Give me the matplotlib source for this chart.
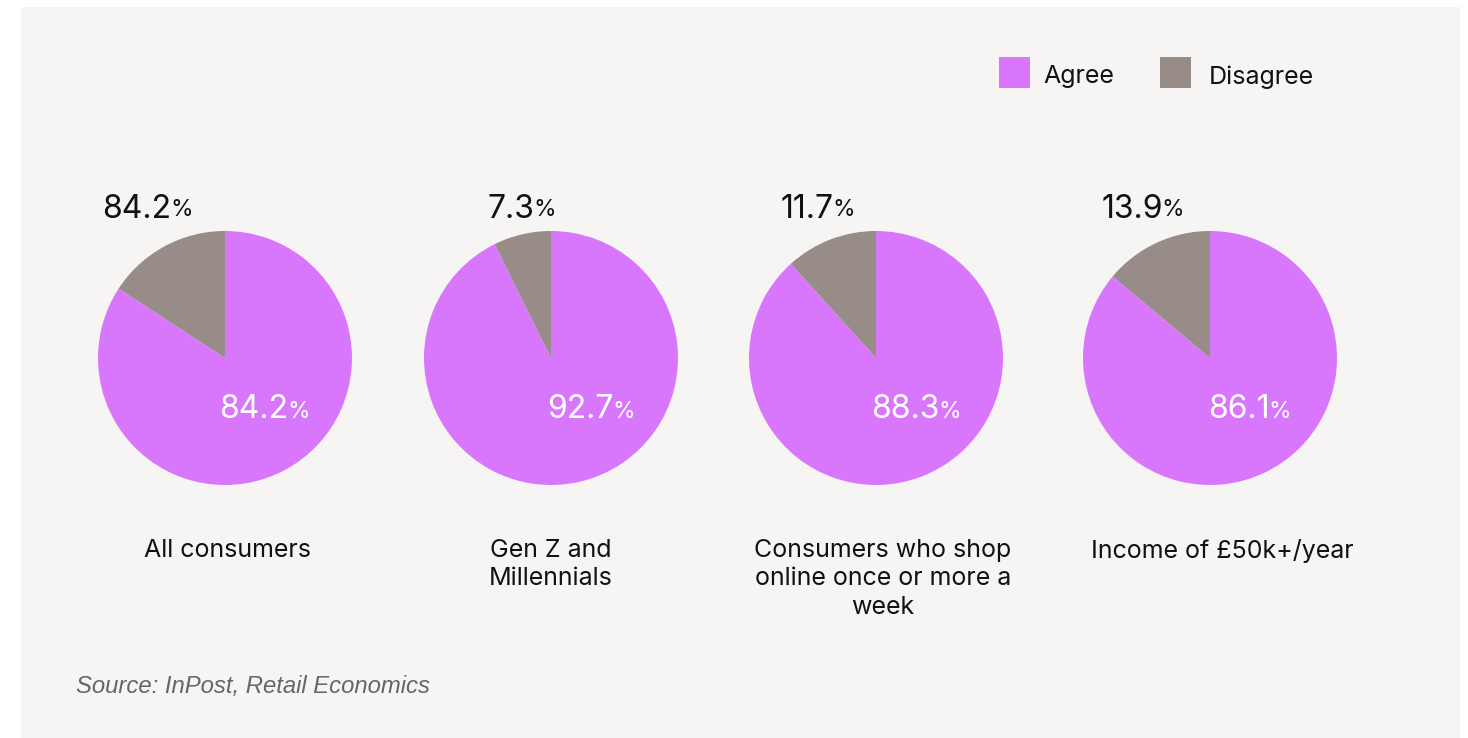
import matplotlib.pyplot as plt
from matplotlib.patches import Rectangle

# survey results: share of each group that agrees
groups = ["All consumers", "Gen Z and\nMillennials",
          "Consumers who shop\nonline once or more a\nweek", "Income of £50k+/year"]
agree = [84.2, 92.7, 88.3, 86.1]
disagree = [100 - a for a in agree]
# value shown above each pie, as published
top_labels = ["84.2", "7.3", "11.7", "13.9"]

AGREE_C = "#d977fc"
DISAGREE_C = "#978c87"
BG = "#f6f5f4"
W, H = 1468, 738
FONT = "Inter"

fig = plt.figure(figsize=(W / 100, H / 100), dpi=100)
fig.patch.set_facecolor("white")


def fx(x):
    return x / W


def fy(y):
    return 1 - y / H


fig.patches.append(Rectangle((fx(21), 0), fx(1460) - fx(21), fy(7), transform=fig.transFigure,
                             facecolor=BG, edgecolor="none", zorder=-5))

# layout in pixels
centers = [225, 551, 876, 1210]
cy = 358
r = 127
top_x = [148, 522, 818, 1143]
label_x = [228, 551, 883, 1222]

texts_pct = []
for i, (a, d) in enumerate(zip(agree, disagree)):
    cx = centers[i]
    ax = fig.add_axes([fx(cx - r), fy(cy + r), (2 * r) / W, (2 * r) / H])
    ax.pie([a, d], colors=[AGREE_C, DISAGREE_C], startangle=90, counterclock=False,
           radius=1, wedgeprops=dict(linewidth=0))
    ax.set_xlim(-1, 1)
    ax.set_ylim(-1, 1)
    ax.set_aspect("equal")
    ax.axis("off")

    t = fig.text(fx(top_x[i]), fy(209), top_labels[i], fontsize=23, family=FONT,
                 color="#111111", ha="center", va="center")
    texts_pct.append((t, "#111111"))

    t = fig.text(fx(cx + 40), fy(410), f"{a:.1f}", fontsize=23, family=FONT,
                 color="white", ha="center", va="center")
    texts_pct.append((t, "white"))

    fig.text(fx(label_x[i]), fy(539), groups[i], fontsize=18, family=FONT,
             color="#111111", ha="center", va="top", linespacing=1.3)

# shift the numbers left so number + smaller % sign are centred together
fig.canvas.draw()
rend = fig.canvas.get_renderer()
for t, c in texts_pct:
    x0, y0 = t.get_position()
    t.set_position((x0 - 11 / W, y0))
    bb = t.get_window_extent(rend)
    fig.text((bb.x1 - 1) / W, y0 - 1.5 / H, "%", fontsize=16.5, family=FONT, color=c,
             ha="left", va="center")

# legend
for (x, tx, lab, c) in [(999, 1043, "Agree", AGREE_C), (1160, 1209, "Disagree", DISAGREE_C)]:
    fig.patches.append(Rectangle((fx(x), fy(88)), 31 / W, 31 / H, transform=fig.transFigure,
                                 facecolor=c, edgecolor="none"))
    fig.text(fx(tx), fy(77), lab, fontsize=18, family=FONT, color="#111111",
             ha="left", va="center")

fig.text(fx(76), fy(687), "Source: InPost, Retail Economics", fontsize=17.2,
         family="Liberation Sans", style="italic", color="#666666", ha="left", va="center")

fig.savefig("out.png", dpi=100, facecolor=fig.get_facecolor())
